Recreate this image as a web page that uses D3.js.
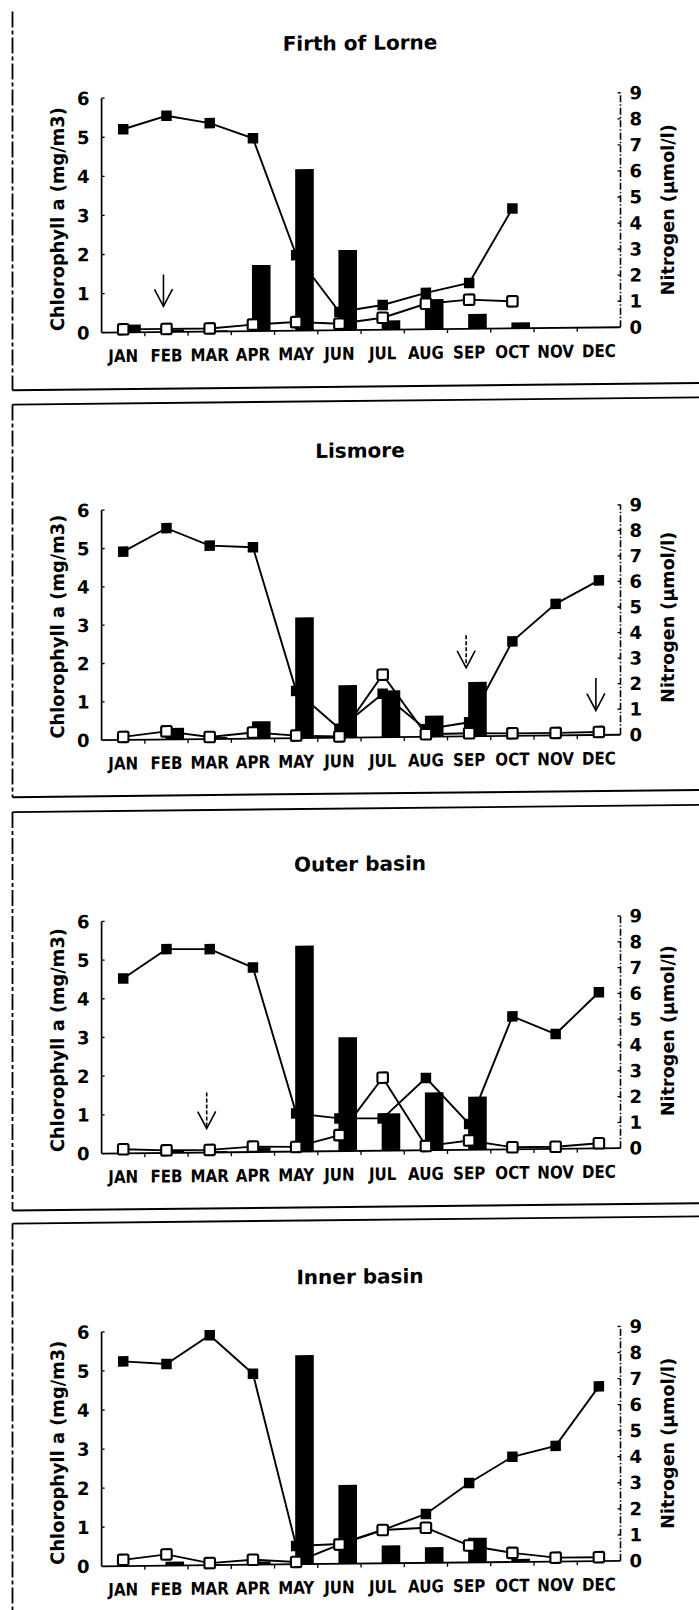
<!DOCTYPE html>
<html>
<head>
<meta charset="utf-8">
<script src="https://cdn.jsdelivr.net/npm/d3@7"></script>
<style>
  html, body { margin: 0; padding: 0; background: #fff; }
  svg { display: block; }
  text { font-family: "DejaVu Sans", "Liberation Sans", sans-serif; font-weight: bold; fill: #000; }
</style>
</head>
<body>
<svg id="chart" width="699" height="1610"></svg>
<script>
// Months on the shared category axis
const months = ["JAN", "FEB", "MAR", "APR", "MAY", "JUN", "JUL", "AUG", "SEP", "OCT", "NOV", "DEC"];
const panelTitles = ["Firth of Lorne", "Lismore", "Outer basin", "Inner basin"];
const chlTicks = [0, 1, 2, 3, 4, 5, 6];
const nTicks = [0, 1, 2, 3, 4, 5, 6, 7, 8, 9];
const chlLabel = "Chlorophyll a (mg/m3)";
const nLabel = "Nitrogen (\u00b5mol/l)";

// Chlorophyll a (bars, left axis, mg/m3)
const chlFirth   = [0.2, 0.06, 0.03, 1.69, 4.13, 2.05, 0.24, 0.77, 0.38, 0.15, 0, 0];
const chlLismore = [0, 0.3, 0.05, 0.45, 3.15, 1.37, 1.22, 0.55, 1.42, 0, 0, 0];
const chlOuter   = [0, 0.08, 0.03, 0.12, 5.32, 2.94, 0.96, 1.49, 1.37, 0, 0, 0];
const chlInner   = [0, 0.1, 0.02, 0.08, 5.35, 2.02, 0.46, 0.4, 0.63, 0.08, 0, 0];

// Nitrogen, filled squares (right axis, umol/l)
const nSolidFirth   = [7.8, 8.3, 8.0, 7.4, 2.9, 0.7, 0.95, 1.4, 1.76, 4.6, null, null];
const nSolidLismore = [7.37, 8.27, 7.57, 7.49, 1.85, 0.35, 1.7, 0.3, 0.55, 3.7, 5.15, 6.05];
const nSolidOuter   = [6.78, 7.9, 7.88, 7.15, 1.48, 1.27, 1.25, 2.8, 1.0, 5.15, 4.45, 6.05];
const nSolidInner   = [7.86, 7.74, 8.83, 7.33, 0.7, 0.76, 1.28, 1.88, 3.05, 4.04, 4.44, 6.71];

// Nitrogen, open squares (right axis, umol/l)
const nOpenFirth   = [0.12, 0.12, 0.12, 0.25, 0.33, 0.25, 0.46, 0.98, 1.12, 1.04, null, null];
const nOpenLismore = [0.12, 0.32, 0.08, 0.24, 0.1, 0.05, 2.45, 0.1, 0.12, 0.1, 0.1, 0.12];
const nOpenOuter   = [0.16, 0.1, 0.1, 0.21, 0.18, 0.62, 2.83, 0.16, 0.36, 0.08, 0.08, 0.2];
const nOpenInner   = [0.24, 0.43, 0.08, 0.19, 0.09, 0.74, 1.28, 1.35, 0.65, 0.35, 0.15, 0.15];

// Event arrows: month and the chlorophyll levels of the shaft's top and tip
const arrowsFirth   = [{ month: "FEB", from: 1.47, to: 0.66 }];
const arrowsLismore = [{ month: "SEP", from: 2.64, to: 1.79 }, { month: "DEC", from: 1.49, to: 0.64 }];
const arrowsOuter   = [{ month: "MAR", from: 1.55, to: 0.62 }];
const arrowsInner   = [];

const panels = [
  { title: panelTitles[0], chl: chlFirth,   solid: nSolidFirth,   open: nOpenFirth,   arrows: arrowsFirth },
  { title: panelTitles[1], chl: chlLismore, solid: nSolidLismore, open: nOpenLismore, arrows: arrowsLismore },
  { title: panelTitles[2], chl: chlOuter,   solid: nSolidOuter,   open: nOpenOuter,   arrows: arrowsOuter },
  { title: panelTitles[3], chl: chlInner,   solid: nSolidInner,   open: nOpenInner,   arrows: arrowsInner }
];

// Page layout for each panel frame
const frames = [
  { zero: 330.1,  top: 95.6,   boxTop: null,  boxBottom: 386.7, leftFrom: 8 },
  { zero: 737.6,  top: 507.6,  boxTop: 401,   boxBottom: 793.6, leftFrom: 401 },
  { zero: 1151,   top: 918.8,  boxTop: 808.5, boxBottom: 1207,  leftFrom: 808.5 },
  { zero: 1563.7, top: 1329.3, boxTop: 1220,  boxBottom: null,  leftFrom: 1220 }
];
const dashedShaft = new Set(["Lismore|SEP", "Outer basin|MAR"]);

const axisLeftX = 101.6, axisRightX = 620.5, borderX = 12.5, pageW = 699, pageH = 1610;

const svg = d3.select("#chart");
const root = svg.append("g")
  .attr("transform", "translate(350,0) skewY(-0.6) translate(-350,0)");

const x = d3.scaleBand().domain(months).range([axisLeftX, axisRightX]).paddingInner(0).paddingOuter(0);
const cx = m => x(m) + x.bandwidth() / 2;

panels.forEach((p, i) => {
  const f = frames[i];
  const g = root.append("g");
  const yL = d3.scaleLinear().domain([0, 6]).range([f.zero, f.top]);
  const yR = d3.scaleLinear().domain([0, 9]).range([f.zero, f.top]);

  // frame lines
  const leftTo = f.boxBottom == null ? pageH + 10 : f.boxBottom;
  g.append("line").attr("x1", borderX).attr("x2", borderX)
    .attr("y1", f.leftFrom).attr("y2", leftTo)
    .attr("stroke", "#000").attr("stroke-width", 1.8).attr("stroke-dasharray", "16,3,4,3");
  if (f.boxTop != null) {
    g.append("line").attr("x1", borderX).attr("x2", pageW + 10)
      .attr("y1", f.boxTop).attr("y2", f.boxTop)
      .attr("stroke", "#000").attr("stroke-width", 1.8);
  }
  if (f.boxBottom != null) {
    g.append("line").attr("x1", borderX).attr("x2", pageW + 10)
      .attr("y1", f.boxBottom).attr("y2", f.boxBottom)
      .attr("stroke", "#000").attr("stroke-width", 2);
  }

  // title
  g.append("text").attr("x", 360).attr("y", f.zero - 280)
    .attr("text-anchor", "middle").attr("font-size", 20).text(p.title);

  // bars (chlorophyll)
  const barW = x.bandwidth() * 0.43;
  g.append("g").selectAll("rect").data(months).join("rect")
    .attr("x", m => cx(m) - 1)
    .attr("width", barW)
    .attr("y", (m, k) => yL(p.chl[k]))
    .attr("height", (m, k) => yL(0) - yL(p.chl[k]))
    .attr("fill", "#000");

  // axes
  g.append("line").attr("x1", axisLeftX).attr("x2", axisLeftX)
    .attr("y1", yL(0)).attr("y2", yL(6)).attr("stroke", "#000").attr("stroke-width", 1.7);
  g.append("line").attr("x1", axisRightX).attr("x2", axisRightX)
    .attr("y1", yR(0)).attr("y2", yR(9)).attr("stroke", "#000").attr("stroke-width", 1.6)
    .attr("stroke-dasharray", "7,2,1.5,2");
  g.append("line").attr("x1", axisLeftX).attr("x2", axisRightX)
    .attr("y1", yL(0)).attr("y2", yL(0)).attr("stroke", "#000").attr("stroke-width", 1.8);

  // inward ticks
  g.append("g").selectAll("line").data(chlTicks.slice(1)).join("line")
    .attr("x1", axisLeftX).attr("x2", axisLeftX + 3)
    .attr("y1", d => yL(d)).attr("y2", d => yL(d))
    .attr("stroke", "#000").attr("stroke-width", 1.3);
  g.append("g").selectAll("line").data(nTicks.slice(1)).join("line")
    .attr("x1", axisRightX).attr("x2", axisRightX - 3)
    .attr("y1", d => yR(d)).attr("y2", d => yR(d))
    .attr("stroke", "#000").attr("stroke-width", 1.3);
  g.append("g").selectAll("line").data(months.slice(1)).join("line")
    .attr("x1", m => x(m)).attr("x2", m => x(m))
    .attr("y1", yL(0)).attr("y2", yL(0) + 4)
    .attr("stroke", "#000").attr("stroke-width", 1.3);

  // tick labels
  g.append("g").selectAll("text").data(chlTicks).join("text")
    .attr("x", axisLeftX - 12).attr("y", d => yL(d)).attr("dy", "0.36em")
    .attr("text-anchor", "end").attr("font-size", 18).text(d => d);
  g.append("g").selectAll("text").data(nTicks).join("text")
    .attr("x", axisRightX + 9).attr("y", d => yR(d)).attr("dy", "0.36em")
    .attr("text-anchor", "start").attr("font-size", 18).text(d => d);
  g.append("g").selectAll("text").data(months).join("text")
    .attr("transform", m => `translate(${cx(m)},${yL(0) + 29.5}) scale(0.86,1)`)
    .attr("text-anchor", "middle").attr("font-size", 17.5).text(m => m);

  // axis titles, both reading bottom to top
  g.append("text")
    .attr("transform", `translate(63.5,${f.zero - 114}) rotate(-90)`)
    .attr("text-anchor", "middle").attr("font-size", 18.5)
    .attr("textLength", 224).attr("lengthAdjust", "spacingAndGlyphs")
    .text(chlLabel);
  g.append("text")
    .attr("transform", `translate(673.5,${f.zero - 117}) rotate(-90)`)
    .attr("text-anchor", "middle").attr("font-size", 18)
    .attr("textLength", 171).attr("lengthAdjust", "spacingAndGlyphs")
    .text(nLabel);

  // nitrogen lines
  const line = d3.line()
    .defined(d => d.v != null)
    .x(d => cx(d.m)).y(d => yR(d.v));
  const solidPts = months.map((m, k) => ({ m, v: p.solid[k] }));
  const openPts = months.map((m, k) => ({ m, v: p.open[k] }));

  g.append("path").datum(openPts).attr("d", line)
    .attr("fill", "none").attr("stroke", "#000").attr("stroke-width", 1.9);
  g.append("path").datum(solidPts).attr("d", line)
    .attr("fill", "none").attr("stroke", "#000").attr("stroke-width", 1.9);

  const s = 10.5;
  g.append("g").selectAll("rect").data(solidPts.filter(d => d.v != null)).join("rect")
    .attr("x", d => cx(d.m) - s / 2).attr("y", d => yR(d.v) - s / 2)
    .attr("width", s).attr("height", s).attr("fill", "#000");
  g.append("g").selectAll("rect").data(openPts.filter(d => d.v != null)).join("rect")
    .attr("x", d => cx(d.m) - s / 2).attr("y", d => yR(d.v) - s / 2)
    .attr("width", s).attr("height", s).attr("rx", 1.5)
    .attr("fill", "#fff").attr("stroke", "#000").attr("stroke-width", 2.1);

  // arrows
  p.arrows.forEach(a => {
    const ax = cx(a.month) - 3;
    const yTop = yL(a.from), yTip = yL(a.to);
    g.append("line").attr("x1", ax).attr("x2", ax).attr("y1", yTop).attr("y2", yTip)
      .attr("stroke", "#000").attr("stroke-width", 1.6)
      .attr("stroke-dasharray", dashedShaft.has(p.title + "|" + a.month) ? "4,2" : null);
    g.append("path")
      .attr("d", d3.line()([[ax - 9, yTip - 17], [ax, yTip], [ax + 9, yTip - 17]]))
      .attr("fill", "none").attr("stroke", "#000").attr("stroke-width", 1.6);
  });
});
</script>
</body>
</html>
